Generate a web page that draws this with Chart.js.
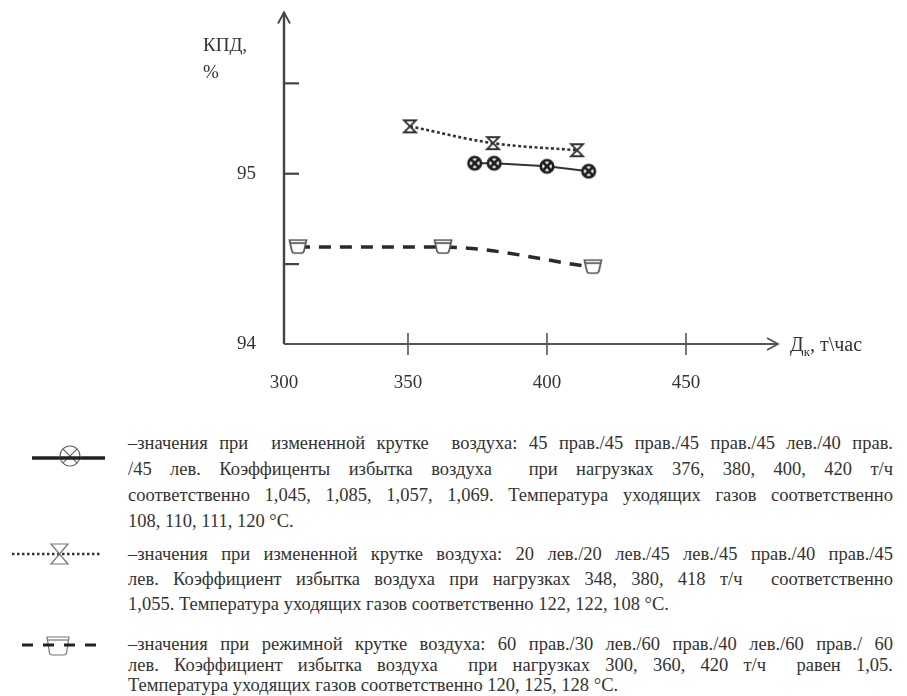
<!DOCTYPE html>
<html><head><meta charset="utf-8">
<script src="https://cdn.jsdelivr.net/npm/chart.js@4"></script>
<style>
body{margin:0;width:907px;height:696px;background:#fff;position:relative;overflow:hidden;font-family:"Liberation Serif","Times New Roman",serif;color:#333}
#wrap{position:absolute;left:0;top:0;width:907px;height:410px}
.t{position:absolute;font-family:"Liberation Serif",serif;font-size:19px;line-height:22px;white-space:nowrap}
.ln{position:absolute;left:128px;width:765px;font-family:"Liberation Serif",serif;font-size:18.5px;line-height:22px;height:22px;white-space:nowrap;text-align:justify;text-align-last:justify}
.ln.l{text-align:left;text-align-last:left}
canvas.sym{position:absolute}
</style></head><body>
<div id="wrap"><canvas id="c" width="907" height="410"></canvas></div>
<div class="t" style="left:203px;top:34px">КПД,</div>
<div class="t" style="left:203px;top:61px">%</div>
<div class="t" style="left:790px;top:333px;font-size:20px">Д<sub style="font-size:13px">к</sub>, т\час</div>

<div class="ln" style="top:432px">–значения при&nbsp; измененной крутке&nbsp; воздуха: 45 прав./45 прав./45 прав./45 лев./40 прав.</div>
<div class="ln" style="top:458px">/45 лев. Коэффиценты избытка воздуха&nbsp; при нагрузках 376, 380, 400, 420 т/ч</div>
<div class="ln" style="top:484px">соответственно 1,045, 1,085, 1,057, 1,069. Температура уходящих газов соответственно</div>
<div class="ln l" style="top:510px">108, 110, 111, 120 °C.</div>

<div class="ln" style="top:543px">–значения при измененной крутке воздуха: 20 лев./20 лев./45 лев./45 прав./40 прав./45</div>
<div class="ln" style="top:568px">лев. Коэффициент избытка воздуха при нагрузках 348, 380, 418 т/ч&nbsp; соответственно</div>
<div class="ln l" style="top:593px">1,055. Температура уходящих газов соответственно 122, 122, 108 °C.</div>

<div class="ln" style="top:633px">–значения при режимной крутке воздуха: 60 прав./30 лев./60 прав./40 лев./60 прав./ 60</div>
<div class="ln" style="top:654px">лев. Коэффициент избытка воздуха&nbsp; при нагрузках 300, 360, 420 т/ч&nbsp; равен 1,05.</div>
<div class="ln l" style="top:674px">Температура уходящих газов соответственно 120, 125, 128 °C.</div>

<canvas class="sym" id="s1" width="100" height="36" style="left:20px;top:438px"></canvas>
<canvas class="sym" id="s2" width="100" height="30" style="left:5px;top:539px"></canvas>
<canvas class="sym" id="s3" width="100" height="36" style="left:10px;top:627px"></canvas>

<script>
// ---- data ----
const xTickValues = [305.4, 350, 400, 450];
const xTickLabels = ['300', '350', '400', '450'];
const yTickValues = [94.058, 94.5, 95, 95.5];
const yTickLabels = ['94', '', '95', ''];
const xMin = 305.4, xMax = 483.1, yMin = 94.058, yMax = 95.892;

const s1x = [374, 381, 400, 415];
const s1y = [95.058, 95.058, 95.041, 95.014];
const s2x = [350.7, 380.6, 410.8];
const s2y = [95.262, 95.169, 95.130];
const s3x = [310.4, 362.6, 416.5];
const s3y = [94.594, 94.594, 94.483];

const pts = (xs, ys) => xs.map((x, i) => ({x: x, y: ys[i]}));

function mk(w, h, f) { const c = document.createElement('canvas'); c.width = w; c.height = h; f(c.getContext('2d')); return c; }
function drawCircX(g, cx, cy, r, lw, col) {
  g.strokeStyle = col; g.lineWidth = lw;
  g.beginPath(); g.arc(cx, cy, r, 0, Math.PI * 2); g.fillStyle = '#fff'; g.fill(); g.stroke();
  const d = r * 0.72;
  g.beginPath(); g.moveTo(cx - d, cy - d); g.lineTo(cx + d, cy + d); g.moveTo(cx + d, cy - d); g.lineTo(cx - d, cy + d); g.stroke();
}
function drawHour(g, x0, y0, w, h, lw, col) {
  g.strokeStyle = col; g.lineWidth = lw; g.fillStyle = '#fff';
  g.beginPath(); g.moveTo(x0, y0); g.lineTo(x0 + w, y0); g.lineTo(x0, y0 + h); g.lineTo(x0 + w, y0 + h); g.closePath(); g.fill(); g.stroke();
}
function drawCup(g, x0, y0, w, h, lw, col) {
  g.strokeStyle = col; g.lineWidth = lw; g.fillStyle = '#fff';
  g.beginPath(); g.moveTo(x0, y0); g.lineTo(x0 + w, y0); g.lineTo(x0 + w - 2.5, y0 + h - 2);
  g.quadraticCurveTo(x0 + w - 3, y0 + h, x0 + w - 5, y0 + h); g.lineTo(x0 + 5, y0 + h);
  g.quadraticCurveTo(x0 + 3, y0 + h, x0 + 2.5, y0 + h - 2); g.closePath(); g.fill(); g.stroke();
  g.beginPath(); g.moveTo(x0 + 1, y0 + 3); g.lineTo(x0 + w - 1, y0 + 3); g.stroke();
}
const mCirc = mk(18, 18, g => drawCircX(g, 9, 9, 6.2, 2.8, '#1e1e1e'));
const mHour = mk(16, 16, g => drawHour(g, 2, 2, 12, 12, 1.8, '#333'));
const mCup = mk(20, 18, g => drawCup(g, 1.5, 2, 17, 13, 1.7, '#555'));

const axesPlugin = {
  id: 'axesArrows',
  afterDraw(chart) {
    const g = chart.ctx, a = chart.chartArea, xs = chart.scales.x, ys = chart.scales.y;
    g.save();
    g.strokeStyle = '#444'; g.lineWidth = 2.4;
    g.beginPath(); g.moveTo(a.left, a.bottom); g.lineTo(a.left, a.top); g.stroke();
    g.lineWidth = 1.8;
    g.beginPath(); g.moveTo(a.left - 6, a.top + 11); g.lineTo(a.left, a.top); g.lineTo(a.left + 6, a.top + 11); g.stroke();
    g.strokeStyle = '#555'; g.lineWidth = 2.2;
    g.beginPath(); g.moveTo(a.left, a.bottom); g.lineTo(a.right, a.bottom); g.stroke();
    g.lineWidth = 1.8;
    g.beginPath(); g.moveTo(a.right - 11, a.bottom - 6); g.lineTo(a.right, a.bottom); g.lineTo(a.right - 11, a.bottom + 6); g.stroke();
    g.strokeStyle = '#444'; g.lineWidth = 2.2;
    yTickValues.slice(1).forEach(v => { const p = ys.getPixelForValue(v); g.beginPath(); g.moveTo(a.left, p); g.lineTo(a.left + 15, p); g.stroke(); });
    g.lineWidth = 1.6; g.strokeStyle = '#555';
    xTickValues.slice(1).forEach(v => { const p = xs.getPixelForValue(v); g.beginPath(); g.moveTo(p, a.bottom - 11); g.lineTo(p, a.bottom + 11); g.stroke(); });
    g.restore();
  }
};

const fontT = {family: '"Liberation Serif","Times New Roman",serif', size: 19};

new Chart(document.getElementById('c'), {
  type: 'line',
  data: {
    datasets: [
      {data: pts(s3x, s3y), borderColor: '#2a2a2a', borderWidth: 3.5, borderDash: [12, 9], tension: 0.35, cubicInterpolationMode: 'monotone', pointStyle: mCup, pointRadius: 9, fill: false},
      {data: pts(s2x, s2y), borderColor: '#333', borderWidth: 2.6, borderDash: [3, 2.5], tension: 0.35, pointStyle: mHour, pointRadius: 8, fill: false},
      {data: pts(s1x, s1y), borderColor: '#333', borderWidth: 2, tension: 0, pointStyle: mCirc, pointRadius: 9, fill: false}
    ]
  },
  options: {
    responsive: false, animation: false, devicePixelRatio: 1,
    layout: {padding: {left: 224, right: 129, top: 12, bottom: 6}},
    plugins: {legend: {display: false}, tooltip: {enabled: false}},
    scales: {
      x: {type: 'linear', min: xMin, max: xMax,
        grid: {display: false, drawTicks: false}, border: {display: false},
        afterBuildTicks: s => { s.ticks = xTickValues.map(v => ({value: v})); },
        afterFit: s => { s.height = 60; s.paddingLeft = 0; s.paddingRight = 0; },
        ticks: {padding: 28, color: '#333', font: fontT, autoSkip: false, maxRotation: 0, callback: (v, i) => xTickLabels[i]}},
      y: {type: 'linear', min: yMin, max: yMax,
        grid: {display: false, drawTicks: false}, border: {display: false},
        afterBuildTicks: s => { s.ticks = yTickValues.map(v => ({value: v})); },
        afterFit: s => { s.width = 60; s.paddingTop = 0; s.paddingBottom = 0; },
        ticks: {padding: 28, color: '#333', font: fontT, autoSkip: false, callback: (v, i) => yTickLabels[i]}}
    }
  },
  plugins: [axesPlugin]
});

// legend symbols
(function(){
  let g = document.getElementById('s1').getContext('2d');
  g.strokeStyle = '#222'; g.lineWidth = 3.5; g.beginPath(); g.moveTo(12, 20); g.lineTo(85, 20); g.stroke();
  drawCircX(g, 50, 18, 10, 1.2, '#666');
  g.strokeStyle = '#222'; g.lineWidth = 3.5; g.beginPath(); g.moveTo(40, 20); g.lineTo(60, 20); g.stroke();
  g = document.getElementById('s2').getContext('2d');
  g.strokeStyle = '#333'; g.lineWidth = 2.5; g.setLineDash([2.5, 2.5]); g.beginPath(); g.moveTo(7, 15); g.lineTo(97, 15); g.stroke(); g.setLineDash([]);
  g.strokeStyle = '#777'; g.lineWidth = 1.2; g.beginPath(); g.moveTo(46, 5); g.lineTo(63, 5); g.lineTo(46, 25); g.lineTo(63, 25); g.closePath(); g.stroke();
  g = document.getElementById('s3').getContext('2d');
  drawCup(g, 37, 10, 22, 18, 1.2, '#777');
  g.strokeStyle = '#222'; g.lineWidth = 3; g.setLineDash([11, 10]); g.beginPath(); g.moveTo(12, 18); g.lineTo(88, 18); g.stroke();
})();
</script>
</body></html>
